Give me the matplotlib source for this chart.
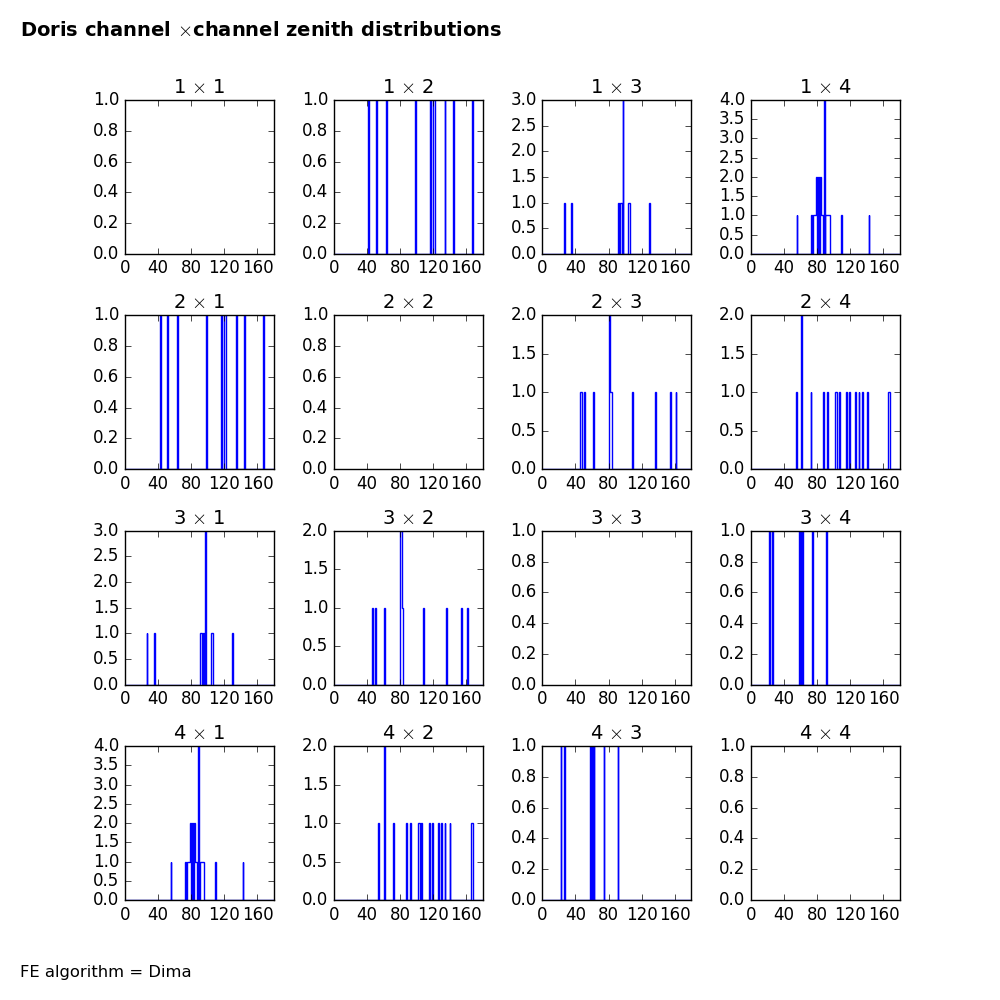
import numpy as np
import matplotlib
matplotlib.use("Agg")
import matplotlib.pyplot as plt

plt.style.use('classic')

# ---- data: zenith angle entries (degrees) for each channel pair ----
channels = [1, 2, 3, 4]
zen_12 = [42, 51, 63, 98, 116, 120, 121, 134, 144, 167]
zen_13 = [26, 35, 91, 92, 94, 95, 97, 97, 97, 104, 105, 129]
zen_14 = [55, 72, 73, 75, 76, 77, 78, 79, 79, 81, 81, 83, 83,
          84, 85, 86, 88, 88, 88, 88, 90, 91, 92, 93, 94, 109, 142]
zen_23 = [46, 47, 50, 61, 80, 80, 81, 81, 82, 83, 108, 136, 154, 161]
zen_24 = [54, 61, 61, 72, 87, 92, 102, 103, 106, 115, 119, 126, 130, 134,
          140, 166, 167]
zen_34 = [22, 26, 58, 60, 62, 74, 91]
xticks = [0, 40, 80, 120, 160]

pairs = {
    (1, 2): zen_12, (1, 3): zen_13, (1, 4): zen_14,
    (2, 3): zen_23, (2, 4): zen_24, (3, 4): zen_34,
}

fig, axes = plt.subplots(4, 4, figsize=(10, 10), dpi=100)
fig.subplots_adjust(left=0.125, right=0.9, top=0.9, bottom=0.1,
                    wspace=0.4, hspace=0.4)

bins = np.arange(0, 181, 1)
for r, ci in enumerate(channels):
    for c, cj in enumerate(channels):
        ax = axes[r, c]
        key = (min(ci, cj), max(ci, cj))
        if ci != cj and key in pairs:
            ax.hist(pairs[key], bins=bins, histtype='step', color='b',
                    linewidth=1.0)
        else:
            ax.set_ylim(0, 1)
        ax.set_xlim(0, 180)
        ax.set_xticks(xticks)
        ax.set_title(f"{ci} $\\times$ {cj}", fontsize=14)

fig.text(0.02, 0.969, "Doris channel $\\times$channel zenith distributions",
         ha='left', va='center', fontweight='bold', fontsize=14)
fig.text(0.02, 0.028, "FE algorithm = Dima", ha='left', va='center',
         fontsize=11.8)

fig.savefig("out.png", dpi=100, facecolor='white')
